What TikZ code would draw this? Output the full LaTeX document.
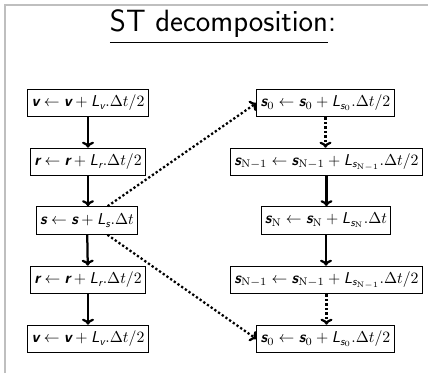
\documentclass[tikz,border=0pt]{standalone}
\usepackage{fix-cm}
\usepackage{amsmath}
\usepackage{fontspec}
\usetikzlibrary{arrows.meta}
\newfontfamily\vecfont{lmsans10-boldoblique}[Extension=.otf]
\newfontfamily\opfont{lmsans10-oblique}[Extension=.otf]
\newcommand{\vb}[1]{\text{\vecfont #1}}
\newcommand{\op}[1]{\text{\opfont #1}}
\tikzset{
  stepbox/.style={draw, line width=0.6pt, inner sep=2.5pt, minimum height=18.5pt,
    font=\fontsize{10.5}{12}\selectfont},
  flow/.style={-{To[length=4pt,width=8pt]}, line width=1.5pt},
  subflow/.style={flow, dash pattern=on 1.5pt off 1.5pt},
}
\begin{document}
\begin{tikzpicture}[x=0.6667pt,y=-0.6667pt]
  \useasboundingbox (0,0) rectangle (428,378);
  % slide frame and title
  \draw[black!25, line width=1pt] (5,373) -- (5,5) -- (428,5);
  \node[font=\sffamily\fontsize{20.5}{23}\selectfont] (title) at (223,27)
    {\underline{ST decomposition}:};
  % outer splitting: v, r, s
  \node[stepbox] (v1) at (88,103) {$\vb{v} \leftarrow \vb{v} + \op{L}_{\op{v}}.\Delta t/2$};
  \node[stepbox] (r1) at (88,162) {$\vb{r} \leftarrow \vb{r} + \op{L}_{\op{r}}.\Delta t/2$};
  \node[stepbox] (s)  at (87,220.5) {$\vb{s} \leftarrow \vb{s} + \op{L}_{\op{s}}.\Delta t$};
  \node[stepbox] (r2) at (88,280) {$\vb{r} \leftarrow \vb{r} + \op{L}_{\op{r}}.\Delta t/2$};
  \node[stepbox] (v2) at (88,339) {$\vb{v} \leftarrow \vb{v} + \op{L}_{\op{v}}.\Delta t/2$};
  % inner splitting of s
  \node[stepbox] (s0a) at (325.5,103)
    {$\vb{s}_0 \leftarrow \vb{s}_0 + \op{L}_{\op{s}_0}.\Delta t/2$};
  \node[stepbox] (sNa) at (326.5,162)
    {$\vb{s}_{\mathrm{N}-1} \leftarrow \vb{s}_{\mathrm{N}-1} + \op{L}_{\op{s}_{\mathrm{N}-1}}.\Delta t/2$};
  \node[stepbox] (sN)  at (326,220.5)
    {$\vb{s}_{\mathrm{N}} \leftarrow \vb{s}_{\mathrm{N}} + \op{L}_{\op{s}_{\mathrm{N}}}.\Delta t$};
  \node[stepbox] (sNb) at (326.5,280)
    {$\vb{s}_{\mathrm{N}-1} \leftarrow \vb{s}_{\mathrm{N}-1} + \op{L}_{\op{s}_{\mathrm{N}-1}}.\Delta t/2$};
  \node[stepbox] (s0b) at (325.5,339)
    {$\vb{s}_0 \leftarrow \vb{s}_0 + \op{L}_{\op{s}_0}.\Delta t/2$};
  % connectors
  \draw[flow] (v1) -- (v1 |- r1.north);
  \draw[flow] (r1) -- (r1 |- s.north);
  \draw[flow] (s) -- (r2);
  \draw[flow] (r2) -- (v2);
  \draw[subflow] (s) -- (s0a.west);
  \draw[subflow] (s) -- (s0b.west);
  \draw[subflow] (s0a) -- (s0a |- sNa.north);
  \draw[flow] (sNa) -- (sNa |- sN.north);
  \draw[flow] (sN) -- (sN |- sNb.north);
  \draw[subflow] (sNb) -- (sNb |- s0b.north);
\end{tikzpicture}
\end{document}
